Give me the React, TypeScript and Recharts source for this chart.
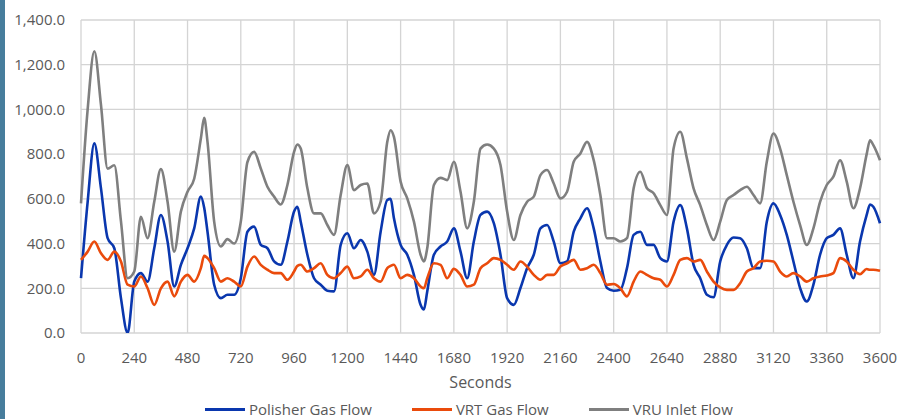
import { CartesianGrid, Legend, Line, LineChart, XAxis, YAxis, Label } from "recharts";

// seconds
const times = [
  0, 30, 60, 90, 120, 150, 180, 210, 240, 270,
  300, 330, 360, 390, 420, 450, 480, 510, 540, 555,
  570, 600, 630, 660, 690, 720, 750, 780, 810, 840,
  870, 900, 930, 960, 975, 990, 1020, 1050, 1080, 1110,
  1140, 1170, 1200, 1230, 1260, 1290, 1320, 1350, 1380, 1395,
  1410, 1440, 1470, 1500, 1530, 1545, 1560, 1590, 1620, 1650,
  1680, 1710, 1740, 1770, 1800, 1830, 1860, 1890, 1920, 1950,
  1980, 2010, 2040, 2070, 2100, 2130, 2160, 2190, 2220, 2250,
  2280, 2310, 2340, 2370, 2400, 2430, 2460, 2490, 2520, 2550,
  2580, 2610, 2640, 2670, 2700, 2730, 2760, 2790, 2820, 2850,
  2880, 2910, 2940, 2970, 3000, 3030, 3060, 3090, 3120, 3150,
  3180, 3210, 3240, 3270, 3300, 3330, 3360, 3390, 3420, 3450,
  3480, 3510, 3540, 3555, 3570, 3600,
];

const polisherGas = [
  245, 587, 848, 647, 424, 379, 156, 0, 230, 268,
  230, 379, 528, 409, 208, 305, 379, 468, 610, 560,
  453, 216, 156, 171, 171, 245, 453, 476, 394, 379,
  320, 305, 409, 543, 565, 498, 350, 245, 216, 189,
  186, 394, 446, 379, 416, 364, 260, 453, 595, 600,
  513, 394, 350, 260, 126, 105, 186, 350, 387, 409,
  468, 364, 245, 409, 528, 543, 491, 350, 156, 126,
  201, 290, 350, 468, 483, 409, 312, 320, 453, 513,
  558, 468, 320, 201, 189, 193, 290, 439, 453, 394,
  394, 335, 320, 498, 572, 468, 305, 245, 171, 160,
  320, 394, 427, 424, 379, 290, 290, 498, 580, 528,
  439, 320, 201, 141, 216, 350, 424, 439, 468, 350,
  245, 409, 528, 575, 565, 491,
];

const vrtGas = [
  327, 364, 409, 357, 327, 364, 320, 216, 208, 253,
  200, 126, 200, 230, 164, 230, 260, 230, 290, 345,
  335, 290, 230, 245, 230, 208, 297, 342, 305, 283,
  268, 268, 238, 275, 300, 305, 275, 290, 312, 260,
  245, 268, 297, 245, 253, 283, 245, 230, 290, 300,
  305, 245, 260, 245, 208, 200, 245, 312, 305, 245,
  287, 260, 208, 216, 290, 312, 335, 327, 305, 283,
  320, 297, 260, 238, 260, 260, 297, 312, 327, 283,
  290, 305, 268, 216, 219, 200, 164, 230, 275, 260,
  245, 238, 208, 260, 327, 335, 320, 327, 275, 230,
  204, 193, 193, 223, 275, 290, 320, 323, 320, 275,
  253, 268, 253, 230, 245, 253, 257, 268, 335, 320,
  283, 263, 286, 283, 283, 278,
];

const vruInlet = [
  580, 1000, 1260, 1020, 735, 750, 500, 245, 275, 520,
  424, 587, 733, 587, 364, 543, 632, 690, 870, 962,
  855, 498, 387, 420, 400, 498, 765, 810, 736, 654,
  610, 575, 662, 810, 843, 825, 647, 535, 535, 483,
  439, 617, 751, 639, 662, 669, 535, 587, 855, 907,
  877, 677, 602, 498, 350, 320, 379, 662, 694, 684,
  766, 632, 468, 587, 825, 843, 825, 751, 543, 416,
  528, 587, 610, 706, 729, 669, 602, 632, 766, 803,
  855, 773, 617, 424, 424, 409, 424, 647, 721, 647,
  625, 572, 528, 825, 900, 781, 647, 572, 483, 416,
  498, 595, 617, 639, 654, 617, 580, 766, 892, 825,
  706, 587, 483, 394, 468, 587, 662, 699, 773, 677,
  558, 647, 800, 862, 840, 773,
];

const xTicks = [0, 240, 480, 720, 960, 1200, 1440, 1680, 1920, 2160, 2400, 2640, 2880, 3120, 3360, 3600];
const yTicks = [0, 200, 400, 600, 800, 1000, 1200, 1400];

const series = [
  { key: "polisher", name: "Polisher Gas Flow", color: "#0a37ae" },
  { key: "vrt", name: "VRT Gas Flow", color: "#ea4b0c" },
  { key: "vru", name: "VRU Inlet Flow", color: "#7f7f7f" },
];

const data = times.map((t, i) => ({
  t,
  polisher: polisherGas[i],
  vrt: vrtGas[i],
  vru: vruInlet[i],
}));

const font = "'Open Sans', sans-serif";
const textColor = "#595959";

const fmtY = (v: number) =>
  v.toLocaleString("en-US", { minimumFractionDigits: 1, maximumFractionDigits: 1 });

const LegendRow = () => (
  <div
    style={{
      height: 28,
      paddingTop: 8,
      boxSizing: "border-box",
      paddingLeft: 205,
      display: "flex",
      alignItems: "center",
      fontFamily: font,
      fontSize: 15,
      lineHeight: "15px",
      color: textColor,
      whiteSpace: "nowrap",
    }}
  >
    {series.map((s) => (
      <span key={s.key} style={{ display: "flex", alignItems: "center", marginRight: 40 }}>
        <span style={{ display: "inline-block", width: 40, height: 3, background: s.color, marginRight: 4 }} />
        {s.name}
      </span>
    ))}
  </div>
);

export default function App() {
  return (
    <div style={{ position: "absolute", left: 0, top: 0, width: 898, height: 419, background: "#fff" }}>
      <div style={{ position: "absolute", left: 0, top: 0, width: 5, height: 419, background: "#477d9c" }} />
      <LineChart width={898} height={419} data={data} margin={{ top: 20, right: 18, bottom: 0, left: 0 }}>
        <CartesianGrid stroke="#d4d4d4" strokeWidth={1.3} />
        <XAxis
          dataKey="t"
          type="number"
          domain={[0, 3600]}
          ticks={xTicks}
          axisLine={false}
          tickLine={false}
          tickMargin={13}
          height={58}
          tick={{ fontFamily: font, fontSize: 15, fill: textColor }}
        >
          <Label
            value="Seconds"
            position="insideBottom"
            offset={3}
            style={{ fontFamily: font, fontSize: 16, fill: textColor }}
          />
        </XAxis>
        <YAxis
          type="number"
          domain={[0, 1400]}
          ticks={yTicks}
          width={81}
          axisLine={false}
          tickLine={false}
          tickMargin={10}
          tickFormatter={fmtY}
          allowDataOverflow
          tick={{ fontFamily: font, fontSize: 15, fill: textColor }}
        />
        {series.map((s) => (
          <Line
            key={s.key}
            dataKey={s.key}
            name={s.name}
            type="monotone"
            stroke={s.color}
            strokeWidth={2.6}
            dot={false}
            isAnimationActive={false}
          />
        ))}
        <Legend verticalAlign="bottom" content={() => <LegendRow />} />
      </LineChart>
    </div>
  );
}
